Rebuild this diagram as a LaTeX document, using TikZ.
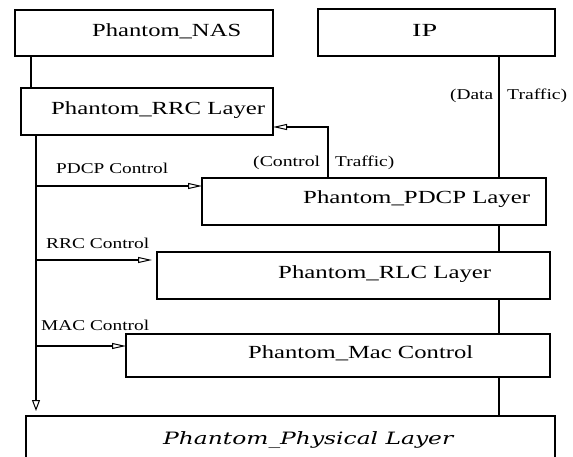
\documentclass[tikz,border=0pt]{standalone}
\usepackage{fontspec}
\setmainfont{Liberation Serif}
\newfontfamily\physfont{DejaVu Serif}
\usepackage{graphicx}
\usetikzlibrary{arrows.meta}
\newcommand{\fitw}[2]{\resizebox{#1pt}{\height}{#2}}
\begin{document}
\begin{tikzpicture}[x=1pt,y=-1pt,
  box/.style={draw, line width=1.2pt, inner sep=0pt, outer sep=0pt},
  big/.style={font=\fontsize{18.5}{21}\selectfont, inner sep=0pt, anchor=base west},
  small/.style={font=\fontsize{15}{17}\selectfont, inner sep=0pt, anchor=base west},
  wire/.style={line width=1.2pt},
  ctl/.style={line width=1.2pt, -{Triangle[open, length=14pt, width=6pt, line width=1pt]}}]
\useasboundingbox (0,0) rectangle (573,457);
\clip (0,0) rectangle (573,457);
% boxes
\node[box, minimum width=258pt, minimum height=46pt] (nas) at (144,33) {};
\node[box, minimum width=237pt, minimum height=47pt] (ip) at (436.5,32.5) {};
\node[box, minimum width=252pt, minimum height=47pt] (rrc) at (147,111.5) {};
\node[box, minimum width=344pt, minimum height=47pt] (pdcp) at (374,201.5) {};
\node[box, minimum width=393pt, minimum height=47pt] (rlc) at (353.5,275.5) {};
\node[box, minimum width=424pt, minimum height=43pt] (mac) at (338,355.5) {};
\node[box, minimum width=529pt, minimum height=60pt] (phy) at (290.5,446) {};
% box texts
\node[big] (tnas) at (92,37) {\fitw{149}{Phantom\_NAS}};
\node[big] (tip) at (412,37) {\fitw{25}{IP}};
\node[big] (trrc) at (51,115) {\fitw{214}{Phantom\_RRC Layer}};
\node[big] (tpdcp) at (303,204) {\fitw{227}{Phantom\_PDCP Layer}};
\node[big] (trlc) at (278,279) {\fitw{213}{Phantom\_RLC Layer}};
\node[big] (tmac) at (248,358) {\fitw{225}{Phantom\_Mac Control}};
\node[big, font=\physfont\itshape\fontsize{17}{20}\selectfont] (tphy) at (163,444) {\fitw{290}{Phantom\_Physical Layer}};
% small labels
\node[small] (lpdcp) at (56,174) {\fitw{112}{PDCP Control}};
\node[small] (lrrc) at (46,248) {\fitw{103}{RRC Control}};
\node[small] (lmac) at (41,330) {\fitw{108}{MAC Control}};
\node[small] (lct1) at (253,167) {\fitw{67}{(Control}};
\node[small] (lct2) at (335,167) {\fitw{59}{Traffic)}};
\node[small] (ld1) at (450,100) {\fitw{43}{(Data}};
\node[small] (ld2) at (507,100) {\fitw{60}{Traffic)}};
% reference coordinates
\coordinate (xl) at (36,0);
\coordinate (xd) at (499,0);
\coordinate (xc) at (328,0);
\coordinate (pc) at (36,186);
\coordinate (rc) at (36,260);
\coordinate (mc) at (36,346);
% connectors
\draw[wire] ([xshift=16pt]nas.south west) -- ([xshift=10pt]rrc.north west);
\draw[wire, -{Triangle[open, length=11pt, width=8pt, line width=1pt]}] (rrc.south -| xl) -- ([yshift=5pt]phy.north west -| xl);
\draw[ctl] (pc) -- (pc -| pdcp.west);
\draw[ctl, shorten >=5pt] (rc) -- (rc -| rlc.west);
\draw[ctl] (mc) -- (mc -| mac.west);
\draw[ctl] (pdcp.north -| xc) |- ([yshift=8pt]rrc.south east);
\draw[wire] (ip.south -| xd) -- (pdcp.north -| xd);
\draw[wire] (pdcp.south -| xd) -- (rlc.north -| xd);
\draw[wire] (rlc.south -| xd) -- (mac.north -| xd);
\draw[wire] (mac.south -| xd) -- (phy.north -| xd);
\end{tikzpicture}
\end{document}
